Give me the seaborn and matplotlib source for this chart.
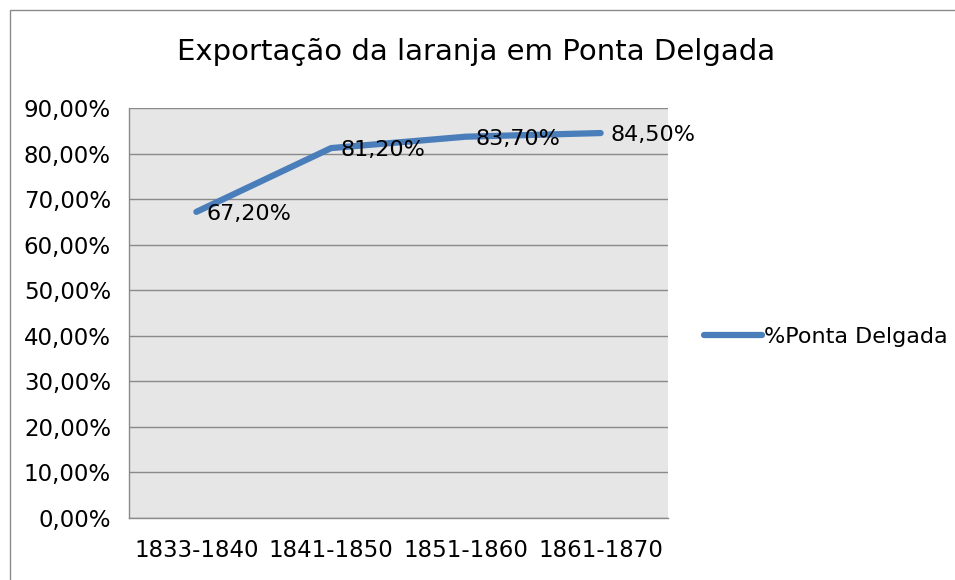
import matplotlib
matplotlib.use("Agg")
import matplotlib.pyplot as plt
import seaborn as sns
import pandas as pd
from matplotlib.ticker import FuncFormatter, MultipleLocator
from matplotlib.patches import Rectangle
from matplotlib.lines import Line2D

periods = ["1833-1840", "1841-1850", "1851-1860", "1861-1870"]
values = [67.2, 81.2, 83.7, 84.5]
series_name = "%Ponta Delgada"
title = "Exportação da laranja em Ponta Delgada"

df = pd.DataFrame({"period": periods, "value": values, "series": series_name})

sns.set_theme(style="white")
plt.rcParams["font.family"] = ["DejaVu Sans"]
plt.rcParams["text.color"] = "#000000"

fig = plt.figure(figsize=(9.55, 5.8), dpi=100)
ax = fig.add_axes([129/955, 62/580, (668-129)/955, (518-108)/580])

blue = "#4a7ebb"
sns.lineplot(data=df, x="period", y="value", hue="series", palette=[blue],
             linewidth=4.5, ax=ax, legend=False, sort=False,
             solid_capstyle="round")

ax.set_facecolor("#e6e6e6")
ax.set_xlim(-0.5, 3.5)
ax.set_ylim(0, 90)
ax.yaxis.set_major_locator(MultipleLocator(10))
ax.yaxis.set_major_formatter(FuncFormatter(lambda v, p: f"{v:.2f}%".replace(".", ",")))
ax.grid(axis="y", color="#8a8a8a", linewidth=1)
ax.grid(axis="x", visible=False)
ax.set_axisbelow(True)
for s in ["top", "right"]:
    ax.spines[s].set_visible(False)
for s in ["left", "bottom"]:
    ax.spines[s].set_color("#8a8a8a")
    ax.spines[s].set_linewidth(1)
ax.set_xlabel("")
ax.set_ylabel("")
ax.tick_params(axis="both", labelsize=16.5, colors="#000000", length=0)
ax.tick_params(axis="y", pad=13)
ax.tick_params(axis="x", pad=15)

for i, v in enumerate(values):
    ax.annotate(f"{v:.2f}%".replace(".", ","), (i, v), xytext=(7, -1.5),
                textcoords="offset points", ha="left", va="center",
                fontsize=16, color="#000000")

fig.text(476/955, 1 - 52/580, title, ha="center", va="center", fontsize=21, color="#000000")

h = Line2D([0], [0], color=blue, linewidth=4.5, solid_capstyle="round")
leg = fig.legend([h], [series_name], loc="center left", bbox_to_anchor=(704/955, 1 - 337/580),
                 frameon=False, fontsize=16, handlelength=2.6, handletextpad=0.1,
                 borderaxespad=0, borderpad=0)
for t in leg.get_texts():
    t.set_color("#000000")

fig.patches.append(Rectangle((10/955, -0.1), 1.2, 1.1 - 10/580, transform=fig.transFigure,
                             fill=False, edgecolor="#8a8a8a", linewidth=1))

fig.savefig("out.png", dpi=100, facecolor="white")
